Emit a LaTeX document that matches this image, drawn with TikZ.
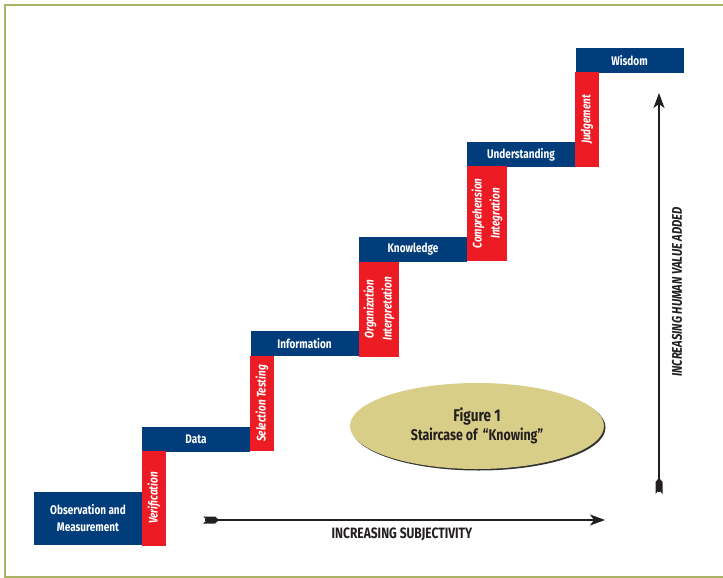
\documentclass[tikz,border=0pt]{standalone}
\usepackage{fontspec}
\setmainfont{Fira Sans}[FakeStretch=0.8]
\usetikzlibrary{shapes.geometric,arrows.meta,shadows}

\definecolor{stairblue}{RGB}{0,61,122}
\definecolor{stairred}{RGB}{237,28,36}
\definecolor{ovalfill}{RGB}{216,206,136}
\definecolor{framegreen}{RGB}{170,178,100}
\definecolor{inkgray}{RGB}{35,31,32}

\tikzset{
	tread/.style={fill=stairblue, text=white, font=\bfseries\fontsize{12.5}{17}\selectfont, minimum width=108, minimum height=25, inner sep=0pt, align=center},
	riser/.style={fill=stairred, text=white, font=\bfseries\itshape\fontsize{12.5}{18}\selectfont, rotate=90, minimum width=95, minimum height=24, inner sep=0pt, align=center},
	axisline/.style={draw=inkgray, line width=1.3pt, -{Stealth[length=15pt,width=11pt,inset=4pt]}},
	fletch/.style={fill=inkgray},
}

\begin{document}
\begin{tikzpicture}[x=1pt, y=-1pt]
		\useasboundingbox (0,0) rectangle (723,578);
		% Frame:
		\draw[framegreen, line width=1.5pt] (725,5) -- (5,5) -- (5,577) -- (725,577);
		% Treads:
		\node[tread, minimum height=53] (obs) at (88,518.5) {Observation and\\Measurement};
		\node[tread] (data) at (196,439.5) {Data};
		\node[tread] (info) at (304.5,343.5) {Information};
		\node[tread] (know) at (413,249.5) {Knowledge};
		\node[tread] (under) at (521,154.5) {Understanding};
		\node[tread] (wisdom) at (629.5,60.5) {Wisdom};
		% Risers:
		\node[riser] (verif) at (154,498) {Verification};
		\node[riser] (select) at (262,403.5) {Selection Testing};
		\node[riser, minimum height=40] (organize) at (379,309) {Organization\\Interpretation};
		\node[riser, minimum height=40] (compre) at (487,213.5) {Comprehension\\Integration};
		\node[riser] (judge) at (587,119.5) {Judgement};
		% Title oval:
		\node[ellipse, fill=ovalfill, minimum width=254, minimum height=86, inner sep=0pt, align=center,
			text=inkgray, font=\bfseries\fontsize{15.5}{19}\selectfont,
			drop shadow={shadow xshift=1.5pt, shadow yshift=-1.5pt, fill=black, opacity=0.8}] (title) at (477,426)
			{{\fontsize{17}{19}\selectfont Figure 1}\\Staircase of \,``Knowing''};
		% Axes:
		\coordinate (hstart) at (205,520);
		\coordinate (hend) at (605,520);
		\coordinate (vstart) at (659,492);
		\coordinate (vend) at (659,93);
		\draw[axisline] (hstart) -- (hend);
		\draw[axisline] (vstart) -- (vend);
		\fill[fletch, shift={(hstart)}] (-2,-3.5) -- (10,-3.5) -- (14,0) -- (10,3.5) -- (-2,3.5) -- (2,0) -- cycle;
		\fill[fletch, shift={(vstart)}, rotate=90] (-2,-3.5) -- (10,-3.5) -- (14,0) -- (10,3.5) -- (-2,3.5) -- (2,0) -- cycle;
		\node[text=inkgray, font=\bfseries\fontsize{15}{16}\selectfont] (subj) at (402,534) {INCREASING SUBJECTIVITY};
		\node[text=inkgray, font=\bfseries\itshape\fontsize{14}{16}\selectfont, rotate=90] (value) at (677,292) {INCREASING HUMAN VALUE ADDED};
	\end{tikzpicture}
\end{document}
